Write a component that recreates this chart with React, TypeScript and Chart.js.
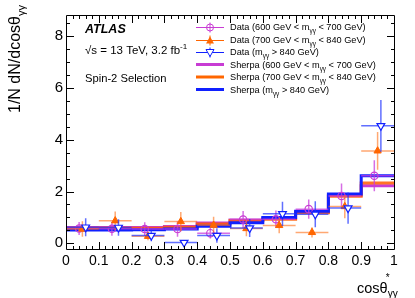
import React, { useEffect, useRef } from "react";
import { Chart, registerables } from "chart.js";
Chart.register(...registerables);

const binEdges = [0, 0.1, 0.2, 0.3, 0.4, 0.5, 0.6, 0.7, 0.8, 0.9, 1.0];
const binCenters = [0.05, 0.15, 0.25, 0.35, 0.45, 0.55, 0.65, 0.75, 0.85, 0.95];
const xTickValues = [0, 0.1, 0.2, 0.3, 0.4, 0.5, 0.6, 0.7, 0.8, 0.9, 1];
const yTickValues = [0, 2, 4, 6, 8];

const dataLow = [0.57, 0.56, 0.55, 0.55, 0.39, 0.92, 0.93, 1.32, 1.83, 2.61];
const errLow = [0.25, 0.27, 0.26, 0.3, 0.2, 0.33, 0.34, 0.37, 0.48, 0.6];
const dataMid = [0.55, 0.87, 0.27, 0.84, 0.7, 0.57, 0.69, 0.42, 1.42, 3.57];
const errMid = [0.3, 0.36, 0.15, 0.37, 0.33, 0.3, 0.3, 0.2, 0.45, 0.73];
const dataHigh = [0.62, 0.61, 0.3, 0.03, 0.3, 0.59, 1.14, 1.12, 1.36, 4.54];
const errHigh = [0.35, 0.32, 0.22, 0.0, 0.28, 0.35, 0.47, 0.5, 0.6, 1.0];

const sherpaLow = [0.61, 0.61, 0.61, 0.65, 0.78, 0.9, 0.96, 1.21, 1.86, 2.22];
const sherpaMid = [0.58, 0.58, 0.58, 0.62, 0.75, 0.87, 0.93, 1.18, 1.82, 2.33];
const sherpaHigh = [0.51, 0.51, 0.52, 0.55, 0.66, 0.79, 1.0, 1.24, 1.9, 2.61];

const offLow = -0.01;
const offMid = 0;
const offHigh = 0.01;

const FONT = "'Liberation Sans', Arial, Helvetica, sans-serif";

const C_MAG = "#c83cd4";
const C_ORA = "#ff6600";
const C_BLU = "#1020ff";

type Part = { t: string; sub?: boolean; sup?: boolean; style?: string };

function drawRich(ctx: CanvasRenderingContext2D, x: number, y: number, parts: Part[], size: number, color: string) {
  let cx = x;
  ctx.fillStyle = color;
  ctx.textBaseline = "alphabetic";
  ctx.textAlign = "left";
  for (const p of parts) {
    const s = p.sub || p.sup ? size * 0.7 : size;
    ctx.font = `${p.style || ""} ${s}px ${FONT}`;
    const dy = p.sub ? size * 0.3 : p.sup ? -size * 0.42 : 0;
    ctx.fillText(p.t, cx, y + dy);
    cx += ctx.measureText(p.t).width;
  }
  return cx;
}

const errorSets: Record<string, { vals: number[]; errs: number[]; off: number; color: string }> = {
  dLow: { vals: dataLow, errs: errLow, off: offLow, color: "rgba(200,60,220,0.75)" },
  dMid: { vals: dataMid, errs: errMid, off: offMid, color: "rgba(255,110,20,0.6)" },
  dHigh: { vals: dataHigh, errs: errHigh, off: offHigh, color: "rgba(30,50,255,0.7)" },
};

const hist = (vals: number[]) => binEdges.map((e, i) => ({ x: e, y: vals[Math.min(i, vals.length - 1)] }));
const pts = (vals: number[], off: number) => vals.map((v, i) => ({ x: binCenters[i] + off, y: v }));

const atlasPlugin = {
  id: "atlasDecor",
  beforeDatasetDraw(chart: any, args: any) {
    const ds = chart.data.datasets[args.index];
    const es = errorSets[ds.key];
    if (!es) return;
    const { ctx, chartArea } = chart;
    const xs = chart.scales.x;
    const ys = chart.scales.y;
    ctx.save();
    ctx.beginPath();
    ctx.rect(chartArea.left, chartArea.top, chartArea.right - chartArea.left, chartArea.bottom - chartArea.top);
    ctx.clip();
    ctx.strokeStyle = es.color;
    ctx.lineWidth = 1.5;
    es.vals.forEach((v, i) => {
      const px = xs.getPixelForValue(binCenters[i] + es.off);
      const py = ys.getPixelForValue(v);
      ctx.beginPath();
      ctx.moveTo(xs.getPixelForValue(binEdges[i]), py);
      ctx.lineTo(xs.getPixelForValue(binEdges[i + 1]), py);
      if (es.errs[i] > 0) {
        ctx.moveTo(px, ys.getPixelForValue(v - es.errs[i]));
        ctx.lineTo(px, ys.getPixelForValue(v + es.errs[i]));
      }
      ctx.stroke();
    });
    ctx.restore();
  },
  afterDatasetsDraw(chart: any) {
    const { ctx, chartArea } = chart;
    const { left, right, top, bottom } = chartArea;
    const xs = chart.scales.x;
    const ys = chart.scales.y;
    ctx.save();
    ctx.strokeStyle = "#000";
    ctx.lineWidth = 1;
    ctx.beginPath();
    ctx.rect(left + 0.5, top + 0.5, right - left, bottom - top);
    ctx.stroke();
    ctx.beginPath();
    for (let k = 0; k <= 17; k++) {
      const v = k * 0.5;
      const p = Math.round(ys.getPixelForValue(v)) + 0.5;
      if (p < top || p > bottom) continue;
      const len = k % 4 === 0 ? 8 : 4;
      ctx.moveTo(left, p);
      ctx.lineTo(left + len, p);
      ctx.moveTo(right + 1, p);
      ctx.lineTo(right + 1 - len, p);
    }
    for (let k = 1; k < 50; k++) {
      const v = k * 0.02;
      const p = Math.round(xs.getPixelForValue(v)) + 0.5;
      const len = k % 5 === 0 ? 8 : 4;
      ctx.moveTo(p, bottom + 1);
      ctx.lineTo(p, bottom + 1 - len);
      ctx.moveTo(p, top);
      ctx.lineTo(p, top + len);
    }
    ctx.stroke();
    ctx.restore();
  },
  afterDraw(chart: any) {
    const { ctx } = chart;
    ctx.save();
    ctx.save();
    ctx.translate(20, 113);
    ctx.rotate(-Math.PI / 2);
    drawRich(ctx, 0, 0, [{ t: "1/N dN/dcos\u03b8" }, { t: "\u03b3\u03b3", sub: true }], 16, "#000");
    ctx.restore();
    const end = drawRich(ctx, 357, 293, [{ t: "cos\u03b8" }], 14.5, "#000");
    ctx.font = `10px ${FONT}`;
    ctx.fillText("*", end - 2, 281);
    drawRich(ctx, end, 293, [{ t: "\u03b3\u03b3", sub: true }], 14.5, "#000");
    drawRich(ctx, 85, 33, [{ t: "ATLAS", style: "italic bold" }], 12.5, "#000");
    drawRich(ctx, 85, 54, [{ t: "\u221as = 13 TeV, 3.2 fb" }, { t: "-1", sup: true }], 11.5, "#000");
    drawRich(ctx, 85, 82, [{ t: "Spin-2 Selection" }], 11.2, "#000");
    const rows = [
      { kind: "data", color: C_MAG, marker: "circle", lo: "600", hi: "700" },
      { kind: "data", color: C_ORA, marker: "tri", lo: "700", hi: "840" },
      { kind: "data", color: C_BLU, marker: "dtri", lo: "", hi: "840" },
      { kind: "mc", color: C_MAG, lo: "600", hi: "700" },
      { kind: "mc", color: C_ORA, lo: "700", hi: "840" },
      { kind: "mc", color: C_BLU, lo: "", hi: "840" },
    ];
    const x0 = 196, x1 = 224, xm = 210, xt = 230;
    rows.forEach((r: any, i) => {
      const y = 27 + i * 12.5;
      const yy = Math.round(y) + 0.5;
      if (r.kind === "data") {
        ctx.strokeStyle = r.color;
        ctx.lineWidth = 1;
        ctx.beginPath();
        ctx.moveTo(x0, yy);
        ctx.lineTo(x1, yy);
        ctx.moveTo(xm, yy - 5);
        ctx.lineTo(xm, yy + 5);
        ctx.stroke();
        if (r.marker === "circle") {
          ctx.beginPath();
          ctx.arc(xm, yy, 3.5, 0, Math.PI * 2);
          ctx.stroke();
        } else if (r.marker === "tri") {
          ctx.fillStyle = r.color;
          ctx.beginPath();
          ctx.moveTo(xm, yy - 4);
          ctx.lineTo(xm + 4, yy + 3);
          ctx.lineTo(xm - 4, yy + 3);
          ctx.closePath();
          ctx.fill();
        } else {
          ctx.fillStyle = "#fff";
          ctx.beginPath();
          ctx.moveTo(xm, yy + 4);
          ctx.lineTo(xm + 4, yy - 3);
          ctx.lineTo(xm - 4, yy - 3);
          ctx.closePath();
          ctx.fill();
          ctx.stroke();
        }
      } else {
        ctx.strokeStyle = r.color;
        ctx.lineWidth = 3;
        ctx.beginPath();
        ctx.moveTo(x0, y);
        ctx.lineTo(x1, y);
        ctx.stroke();
      }
      const name = r.kind === "data" ? "Data" : "Sherpa";
      const parts: Part[] = r.lo
        ? [{ t: `${name} (${r.lo} GeV < m` }, { t: "\u03b3\u03b3", sub: true }, { t: ` < ${r.hi} GeV)` }]
        : [{ t: `${name} (m` }, { t: "\u03b3\u03b3", sub: true }, { t: ` > ${r.hi} GeV)` }];
      drawRich(ctx, xt, y + 3.3, parts, 9.2, "#000");
    });
    ctx.restore();
  },
};

export default function App() {
  const ref = useRef<HTMLCanvasElement | null>(null);
  useEffect(() => {
    if (!ref.current) return;
    Chart.defaults.font.family = FONT;
    const chart = new Chart(ref.current, {
      type: "scatter",
      data: {
        datasets: [
          { key: "sLow", data: hist(sherpaLow), showLine: true, stepped: "before", borderColor: C_MAG, borderWidth: 3, pointRadius: 0, fill: false, order: 6 } as any,
          { key: "sMid", data: hist(sherpaMid), showLine: true, stepped: "before", borderColor: "rgba(255,90,0,0.85)", borderWidth: 3, pointRadius: 0, fill: false, order: 5 } as any,
          { key: "sHigh", data: hist(sherpaHigh), showLine: true, stepped: "before", borderColor: C_BLU, borderWidth: 3, pointRadius: 0, fill: false, order: 4 } as any,
          { key: "dLow", data: pts(dataLow, offLow), pointStyle: "circle", pointRadius: 3.7, borderColor: C_MAG, backgroundColor: "rgba(0,0,0,0)", borderWidth: 1.2, order: 3 } as any,
          { key: "dMid", data: pts(dataMid, offMid), pointStyle: "triangle", pointRadius: 4.2, borderColor: C_ORA, backgroundColor: C_ORA, borderWidth: 1, order: 2 } as any,
          { key: "dHigh", data: pts(dataHigh, offHigh), pointStyle: "triangle", pointRotation: 180, pointRadius: 4.5, borderColor: C_BLU, backgroundColor: "#fff", borderWidth: 1.2, order: 1 } as any,
        ],
      },
      options: {
        animation: false,
        responsive: false,
        devicePixelRatio: 1,
        layout: { padding: { left: 0, right: 21, top: 15, bottom: 0 } },
        plugins: { legend: { display: false }, tooltip: { enabled: false }, title: { display: false } },
        scales: {
          x: {
            type: "linear",
            min: 0,
            max: 1,
            grid: { display: false, drawTicks: false },
            border: { display: false },
            ticks: {
              color: "#000",
              font: { size: 14 },
              padding: 4,
              maxRotation: 0,
              autoSkip: false,
              callback: (v: any) => String(Number(Number(v).toFixed(1))),
            },
            afterBuildTicks: (s: any) => {
              s.ticks = xTickValues.map((v) => ({ value: v }));
            },
            afterFit: (s: any) => {
              s.height = 49;
            },
          },
          y: {
            type: "linear",
            min: -0.22,
            max: 8.82,
            grid: { display: false, drawTicks: false },
            border: { display: false },
            ticks: { color: "#000", font: { size: 15 }, padding: 3, autoSkip: false },
            afterBuildTicks: (s: any) => {
              s.ticks = yTickValues.map((v) => ({ value: v }));
            },
            afterFit: (s: any) => {
              s.width = 66;
            },
          },
        },
      },
      plugins: [atlasPlugin],
    });
    return () => chart.destroy();
  }, []);
  return (
    <div style={{ position: "absolute", left: 0, top: 0, width: 415, height: 298, background: "#fff" }}>
      <canvas ref={ref} width={415} height={298} style={{ display: "block" }} />
    </div>
  );
}
